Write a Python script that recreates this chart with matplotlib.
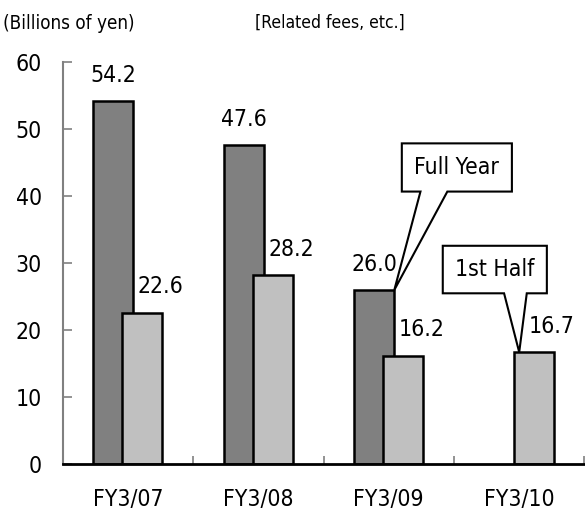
import numpy as np
import matplotlib
matplotlib.use('Agg')
import matplotlib.pyplot as plt
from matplotlib.patches import Polygon

# narrow font is missing, the condensed DejaVu face is the closest
plt.rcParams['font.family'] = ['Liberation Sans Narrow', 'DejaVu Sans',
                               'Noto Sans CJK JP']
plt.rcParams['font.stretch'] = 'condensed'

# Data
categories = ['FY3/07', 'FY3/08', 'FY3/09', 'FY3/10']
full_year = [54.2, 47.6, 26.0, np.nan]
related_fees = [22.6, 28.2, 16.2, 16.7]
y_ticks = [0, 10, 20, 30, 40, 50, 60]

DARK = '#808080'
LIGHT = '#c0c0c0'
BAR_W = 0.307
OFFSET = 0.111
FS = 16.5

fig = plt.figure(figsize=(5.85, 5.16), dpi=100)
ax = fig.add_axes([0.1072, 0.1008, 0.8918, 0.7783])

x = np.arange(len(categories))
ax.bar(x - OFFSET, full_year, width=BAR_W, color=DARK,
       edgecolor='black', linewidth=1.8)
ax.bar(x + OFFSET, related_fees, width=BAR_W, color=LIGHT,
       edgecolor='black', linewidth=1.8)

# Value labels
for xi, v in zip(x, full_year):
    if np.isnan(v):
        continue
    ax.annotate(f'{v:.1f}', (xi - OFFSET, v), xytext=(0, 14),
                textcoords='offset points', ha='center', va='baseline',
                fontsize=FS)
for xi, v in zip(x, related_fees):
    ax.annotate(f'{v:.1f}', (xi + OFFSET, v), xytext=(13, 14),
                textcoords='offset points', ha='center', va='baseline',
                fontsize=FS)

# Axes styling
ax.set_xlim(-0.5, 3.5)
ax.set_ylim(0, 60)
ax.set_yticks(y_ticks)
ax.set_xticks(x)
ax.set_xticklabels(categories, fontsize=FS)
ax.set_xticks(x + 0.5, minor=True)
ax.tick_params(axis='x', which='major', length=0, pad=17)
ax.tick_params(axis='x', which='minor', direction='in', length=6,
               color='#808080', width=1.2)
ax.tick_params(axis='y', direction='in', length=6.5, color='#808080',
               width=1.2, labelsize=FS, pad=15)
for s in ['top', 'right']:
    ax.spines[s].set_visible(False)
ax.spines['left'].set_color('#808080')
ax.spines['left'].set_linewidth(1.5)
ax.spines['bottom'].set_color('black')
ax.spines['bottom'].set_linewidth(2)


def callout(text, tip, box_x, box_y, wedge_x):
    # box with a wedge pointing at tip
    x0, x1 = box_x
    y0, y1 = box_y
    w0, w1 = wedge_x
    pts = [(x0, y0), (x0, y1), (x1, y1), (x1, y0), (w1, y0), tip,
           (w0, y0)]
    ax.add_patch(Polygon(pts, closed=True, facecolor='white',
                         edgecolor='black', linewidth=1.5, zorder=5,
                         clip_on=False))
    ax.text((x0 + x1) / 2, (y0 + y1) / 2, text, ha='center', va='center',
            fontsize=FS, zorder=6)


callout('Full Year', (2 - OFFSET + BAR_W / 2, full_year[2]),
        (2.100, 2.944), (40.7, 47.9), (2.243, 2.449))
callout('1st Half', (3.0, related_fees[3]),
        (2.414, 3.212), (25.5, 32.6), (2.884, 3.058))

fig.text(0.005, 0.955, '(Billions of yen)', fontsize=13.5, va='center')
fig.text(0.436, 0.955, '[Related fees, etc.]', fontsize=12.5, va='center')

fig.savefig('out.png', dpi=100)
